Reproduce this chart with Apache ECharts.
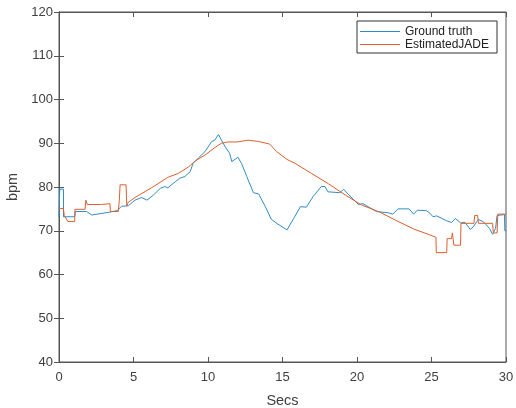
<!DOCTYPE html>
<html>
<head>
<meta charset="utf-8">
<script src="https://cdn.jsdelivr.net/npm/echarts@6/dist/echarts.min.js"></script>
<style>html,body{margin:0;padding:0;background:#fff;}#c{width:516px;height:408px;}</style>
</head>
<body>
<div id="c"></div>
<script>
const seriesNames = ['Ground truth', 'EstimatedJADE'];
const xTicks = [0, 5, 10, 15, 20, 25, 30];
const yTicks = [40, 50, 60, 70, 80, 90, 100, 110, 120];
const groundTruth = [
  [0,73.2],[0.05,73.2],[0.05,79.5],[0.3,79.5],[0.3,73.2],[1.05,73.2],[1.1,74.4],[1.85,74.4],
  [2.2,73.6],[3.3,74.2],[3.9,74.6],[4.2,75.6],[4.65,75.7],[5.1,77.0],[5.55,77.6],[5.9,77.0],
  [6.35,78.2],[6.8,79.7],[7.1,80.1],[7.3,79.8],[7.8,81.2],[8.1,82.0],[8.45,82.4],[8.8,83.5],
  [9.0,85.4],[9.35,86.6],[9.8,88.1],[10.25,90.4],[10.45,90.7],[10.7,92.0],[11.15,89.2],
  [11.45,87.7],[11.6,85.8],[12.0,86.8],[12.25,85.4],[12.6,82.4],[13.05,78.7],[13.4,78.4],
  [13.85,75.5],[14.25,72.6],[14.7,71.5],[15.3,70.2],[15.75,72.8],[16.2,75.5],[16.6,75.4],
  [17.05,77.8],[17.6,80.1],[17.85,80.1],[18.05,78.9],[18.85,78.7],[19.1,79.5],[19.45,78.2],
  [20.1,76.0],[20.4,76.2],[21.3,74.4],[22.1,74.1],[22.4,73.8],[22.75,75.0],[23.5,75.0],
  [23.8,73.8],[24.05,74.7],[24.65,74.6],[24.9,74.0],[25.1,73.2],[25.35,73.4],[26.0,72.3],
  [26.35,71.9],[26.6,72.8],[26.95,71.8],[27.25,71.9],[27.6,70.3],[27.8,70.9],[28.15,72.6],
  [28.5,72.0],[28.9,70.5],[29.1,69.2],[29.3,70.5],[29.4,73.5],[29.9,73.7],[29.92,70.0],[30,70.0]
];
const estimated = [
  [0,75.1],[0.3,75.1],[0.35,73.5],[0.6,72.1],[1.05,72.1],[1.07,74.9],[1.75,74.9],[1.8,77.0],
  [1.9,76.0],[2.85,76.0],[2.87,75.6],[2.95,75.6],[2.97,76.2],[3.42,76.2],[3.45,74.4],[3.98,74.4],
  [4.05,77.0],[4.1,80.5],[4.5,80.5],[4.55,75.7],[4.65,76.5],[5.1,77.6],[6.2,79.8],[7.3,82.2],
  [8.0,83.1],[8.7,84.6],[9.15,86.0],[9.8,87.3],[10.45,89.0],[10.9,90.0],[11.35,90.3],[11.95,90.3],
  [12.7,90.7],[13.4,90.4],[14.15,89.8],[14.6,88.1],[15.3,86.3],[15.85,85.4],[16.95,83.1],
  [18.1,80.7],[19.2,78.2],[20.3,75.9],[21.5,74.3],[22.6,72.4],[23.8,70.4],[24.7,69.3],[25.3,68.5],
  [25.32,65.0],[26.02,65.0],[26.05,68.2],[26.35,68.2],[26.4,69.5],[26.45,68.2],[26.5,66.7],
  [26.95,66.7],[26.98,71.7],[27.85,71.7],[27.9,73.5],[28.1,73.5],[28.15,71.7],[29.1,71.7],
  [29.15,69.5],[29.4,69.5],[29.45,73.8],[30,73.8]
];
const colors = ['#2f8cc4', '#dc5f2e'];

const axisColor = '#555555';
const labelColor = '#404040';
const font = 'Liberation Sans, Arial, Helvetica, sans-serif';
const xMin = xTicks[0], xMax = xTicks[xTicks.length - 1];
const yMin = yTicks[0], yMax = yTicks[yTicks.length - 1];

const chart = echarts.init(document.getElementById('c'), null, {renderer: 'canvas'});
const baseTick = {show: true, inside: true, length: 5, lineStyle: {color: axisColor, width: 1}};
chart.setOption({
  animation: false,
  backgroundColor: '#ffffff',
  color: colors,
  grid: {left: 59, right: 10, top: 12, bottom: 46, containLabel: false, outerBoundsMode: 'none',
         show: true, borderColor: axisColor, borderWidth: 1, backgroundColor: '#fff'},
  legend: {
    data: seriesNames,
    orient: 'vertical',
    left: 357, top: 21,
    icon: 'rect', itemWidth: 40, itemHeight: 1, itemGap: 0,
    padding: [4, 8, 2, 3],
    borderColor: '#333', borderWidth: 1, backgroundColor: '#fff',
    textStyle: {fontFamily: font, fontSize: 12, color: '#222', lineHeight: 13}
  },
  xAxis: [{
    type: 'value', min: xMin, max: xMax, interval: 5,
    name: 'Secs', nameLocation: 'middle', nameGap: 31,
    nameTextStyle: {fontFamily: font, fontSize: 14.5, color: labelColor},
    axisLine: {show: true, onZero: false, lineStyle: {color: axisColor}},
    axisTick: baseTick,
    axisLabel: {fontFamily: font, fontSize: 13, color: labelColor, margin: 9},
    splitLine: {show: false}
  }, {
    type: 'value', min: xMin, max: xMax, interval: 5, position: 'top',
    axisLine: {show: true, lineStyle: {color: axisColor}},
    axisTick: baseTick, axisLabel: {show: false}, splitLine: {show: false}
  }],
  yAxis: [{
    type: 'value', min: yMin, max: yMax, interval: 10,
    name: 'bpm', nameLocation: 'middle', nameGap: 37,
    nameTextStyle: {fontFamily: font, fontSize: 14.5, color: labelColor},
    axisLine: {show: true, onZero: false, lineStyle: {color: axisColor}},
    axisTick: baseTick,
    axisLabel: {fontFamily: font, fontSize: 13, color: labelColor, margin: 6},
    splitLine: {show: false}
  }, {
    type: 'value', min: yMin, max: yMax, interval: 10, position: 'right',
    axisLine: {show: true, lineStyle: {color: axisColor}},
    axisTick: baseTick, axisLabel: {show: false}, splitLine: {show: false}
  }],
  series: [
    {name: seriesNames[0], type: 'line', data: groundTruth, symbol: 'none', lineStyle: {width: 1, color: colors[0]}, itemStyle: {color: colors[0]}},
    {name: seriesNames[1], type: 'line', data: estimated, symbol: 'none', lineStyle: {width: 1, color: colors[1]}, itemStyle: {color: colors[1]}}
  ]
});
</script>
</body>
</html>
